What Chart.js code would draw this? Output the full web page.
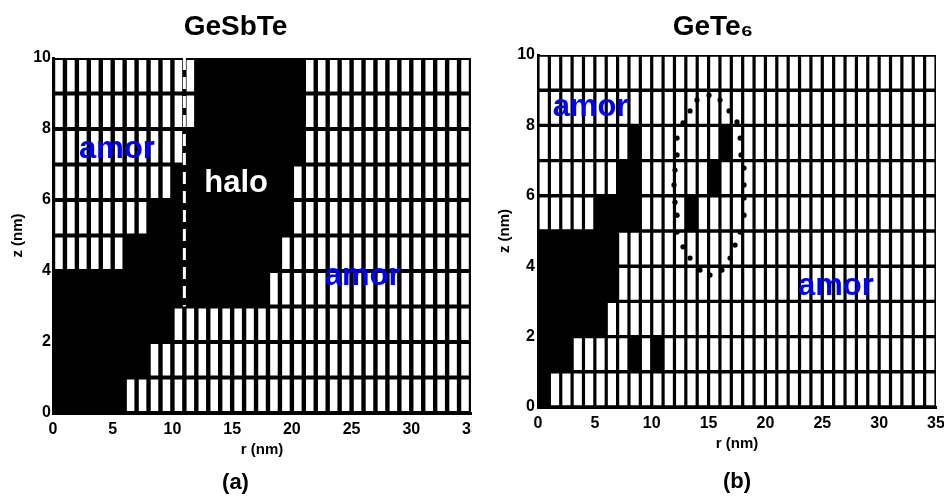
<!DOCTYPE html>
<html>
<head>
<meta charset="utf-8">
<script src="https://cdn.jsdelivr.net/npm/chart.js@4/dist/chart.umd.min.js"></script>
<style>
  html, body { margin: 0; padding: 0; background: #fff; overflow: hidden; width: 944px; height: 500px; }
  canvas { position: absolute; top: 0; }
  #chartA { left: 0; }
  #chartB { left: 490px; }
</style>
</head>
<body>
<canvas id="chartA" width="472" height="500"></canvas>
<canvas id="chartB" width="468" height="500"></canvas>
<script>
// Axis ranges and tick spacing (nm)
const rRange = [0, 35];
const zRange = [0, 10];
const rTickStep = 5;
const zTickStep = 2;

// Cell states, one string per 1 nm layer, listed from z = 9-10 nm down to z = 0-1 nm.
// Each character is a 1 nm radial cell: '#' crystalline, '.' amorphous (spaces only group the columns).
const gstRows = [
  '..... ..... ..### ##### #.... ..... .....',
  '..... ..... ..### ##### #.... ..... .....',
  '..... ..... .#### ##### #.... ..... .....',
  '..... ..... ##### ##### ..... ..... .....',
  '..... ...## ##### ##### ..... ..... .....',
  '..... .#### ##### ####. ..... ..... .....',
  '##### ##### ##### ###.. ..... ..... .....',
  '##### ##### ..... ..... ..... ..... .....',
  '##### ###.. ..... ..... ..... ..... .....',
  '##### #.... ..... ..... ..... ..... .....'
];

const geteRows = [
  '..... ..... ..... ..... ..... ..... .....',
  '..... ..... ..... ..... ..... ..... .....',
  '..... ...#. ..... .#... ..... ..... .....',
  '..... ..##. ..... #.... ..... ..... .....',
  '..... ####. ...#. ..... ..... ..... .....',
  '##### ##... ..... ..... ..... ..... .....',
  '##### ##... ..... ..... ..... ..... .....',
  '##### #.... ..... ..... ..... ..... .....',
  '###.. ...#. #.... ..... ..... ..... .....',
  '#.... ..... ..... ..... ..... ..... .....'
];

// Halo edge marker in GeSbTe (r, z in nm)
const gstMarkerR = [11, 11];
const gstMarkerZ = [10, 3];

// Dotted outline around the GeTe6 nucleus (r, z in nm)
const geteOutlineR = [13.98, 15.04, 16.01, 16.80, 17.50, 17.77, 17.85, 18.12, 18.12, 18.12, 18.12, 17.77, 17.33, 16.89,
                      16.18, 15.13, 14.25, 13.37, 12.75, 12.23, 12.23, 12.05, 11.96, 12.05, 12.23, 12.23, 12.75, 13.37];
const geteOutlineZ = [8.72, 8.86, 8.72, 8.41, 8.10, 7.64, 7.16, 6.79, 6.31, 5.94, 5.45, 4.97, 4.60, 4.23,
                      3.89, 3.75, 3.89, 4.23, 4.55, 4.97, 5.45, 5.82, 6.31, 6.73, 7.16, 7.64, 8.07, 8.41];

// Region labels (text, colour, baseline position in nm)
const gstLabelText = ['amor', 'halo', 'amor'];
const gstLabelColor = ['#0000ff', '#ffffff', '#0000ff'];
const gstLabelR = [5.36, 15.33, 25.92];
const gstLabelZ = [7.18, 6.23, 3.61];

const geteLabelText = ['amor', 'amor'];
const geteLabelColor = ['#0000ff', '#0000ff'];
const geteLabelR = [4.62, 26.2];
const geteLabelZ = [8.27, 3.18];

Chart.defaults.font.family = "'Liberation Sans', Arial, Helvetica, sans-serif";
Chart.defaults.color = '#000';

// One floating-bar dataset per layer; every cell spans [z, z + 1] over its 1 nm radial slot.
// Cells are inflated by 1 px (with the border widened to match) so neighbouring
// black cells merge without anti-aliasing seams.
function cellDatasets(rows, edge) {
  return rows.map((row, i) => {
    const states = row.replace(/ /g, '').split('');
    const z = rows.length - 1 - i;
    return {
      type: 'bar',
      order: 2,
      grouped: false,
      barPercentage: 1,
      categoryPercentage: 1,
      borderSkipped: false,
      borderColor: '#000',
      borderWidth: edge,
      inflateAmount: 1,
      data: states.map((s, c) => ({ x: c + 0.5, y: [z, z + 1] })),
      backgroundColor: states.map(s => (s === '#' ? '#000' : '#fff'))
    };
  });
}

const regionLabels = {
  id: 'regionLabels',
  afterDatasetsDraw(chart, args, opts) {
    const { ctx, scales: { x, y } } = chart;
    ctx.save();
    ctx.font = 'bold ' + opts.size + "px 'Liberation Sans', Arial, sans-serif";
    ctx.textAlign = 'center';
    ctx.textBaseline = 'alphabetic';
    opts.text.forEach((t, i) => {
      ctx.fillStyle = opts.color[i];
      ctx.fillText(t, x.getPixelForValue(opts.r[i]), y.getPixelForValue(opts.z[i]));
    });
    ctx.restore();
  }
};

function panelOptions(cfg) {
  return {
    responsive: false,
    animation: false,
    events: [],
    layout: { padding: { left: 0, right: cfg.padRight, top: 0, bottom: 0 } },
    plugins: {
      legend: { display: false },
      tooltip: { enabled: false },
      title: {
        display: true, text: cfg.title, color: '#000',
        font: { size: 28, weight: 'bold' },
        padding: { top: 10.7, bottom: cfg.titleGap }
      },
      subtitle: {
        display: true, text: cfg.tag, position: 'bottom', color: '#000',
        fullSize: cfg.tagFull,
        font: { size: 22, weight: 'bold' },
        padding: { top: cfg.tagTop, bottom: cfg.tagBottom }
      },
      regionLabels: cfg.labels
    },
    scales: {
      x: {
        type: 'linear', min: rRange[0], max: rRange[1], offset: false,
        grid: { display: false, drawTicks: false, offset: false },
        border: { display: true, color: '#000', width: 3 },
        ticks: { stepSize: rTickStep, padding: 7, font: { size: 16, weight: 'bold' }, color: '#000' },
        title: { display: true, text: 'r (nm)', font: { size: 15, weight: 'bold' }, color: '#000', padding: { top: 0, bottom: 0 } },
        afterFit(scale) { scale.height = 46; scale.paddingLeft = 0; scale.paddingRight = 0; }
      },
      y: {
        type: 'linear', min: zRange[0], max: zRange[1],
        grid: { display: false, drawTicks: false },
        border: { display: true, color: '#000', width: 3 },
        ticks: { stepSize: zTickStep, padding: cfg.yTickPad, font: { size: 16, weight: 'bold' }, color: '#000' },
        title: { display: true, text: 'z (nm)', font: { size: 15, weight: 'bold' }, color: '#000', padding: { top: cfg.yTitlePad, bottom: 0 } },
        afterFit(scale) { scale.width = cfg.yWidth; scale.paddingTop = 0; scale.paddingBottom = 0; }
      }
    }
  };
}

// (a) GeSbTe
new Chart(document.getElementById('chartA'), {
  type: 'bar',
  data: {
    datasets: [
      {
        type: 'line', order: 0,
        data: gstMarkerR.map((r, i) => ({ x: r, y: gstMarkerZ[i] })),
        borderColor: '#fff', borderWidth: 3, borderDash: [12, 7],
        pointRadius: 0, fill: false
      },
      ...cellDatasets(gstRows, { left: 3.2, right: 3.2, top: 3, bottom: 3 })
    ]
  },
  options: panelOptions({
    title: 'GeSbTe', tag: '(a)', tagFull: true, tagTop: 10.8, tagBottom: 3.8,
    padRight: 1, titleGap: 13.7, yWidth: 53, yTickPad: 2, yTitlePad: 9,
    labels: { text: gstLabelText, color: gstLabelColor, r: gstLabelR, z: gstLabelZ, size: 31 }
  }),
  plugins: [regionLabels]
});

// (b) GeTe6
new Chart(document.getElementById('chartB'), {
  type: 'bar',
  data: {
    datasets: [
      {
        type: 'line', order: 0, showLine: false,
        data: geteOutlineR.map((r, i) => ({ x: r, y: geteOutlineZ[i] })),
        pointRadius: 2.6, pointBackgroundColor: '#000', pointBorderWidth: 0, borderColor: '#000'
      },
      ...cellDatasets(geteRows, { left: 2.6, right: 2.6, top: 2.7, bottom: 2.7 })
    ]
  },
  options: panelOptions({
    title: 'GeTe\u2086', tag: '(b)', tagFull: false, tagTop: 15.8, tagBottom: 4.8,
    padRight: 22, titleGap: 10.7, yWidth: 48, yTickPad: 3, yTitlePad: 6,
    labels: { text: geteLabelText, color: geteLabelColor, r: geteLabelR, z: geteLabelZ, size: 31 }
  }),
  plugins: [regionLabels]
});
</script>
</body>
</html>
